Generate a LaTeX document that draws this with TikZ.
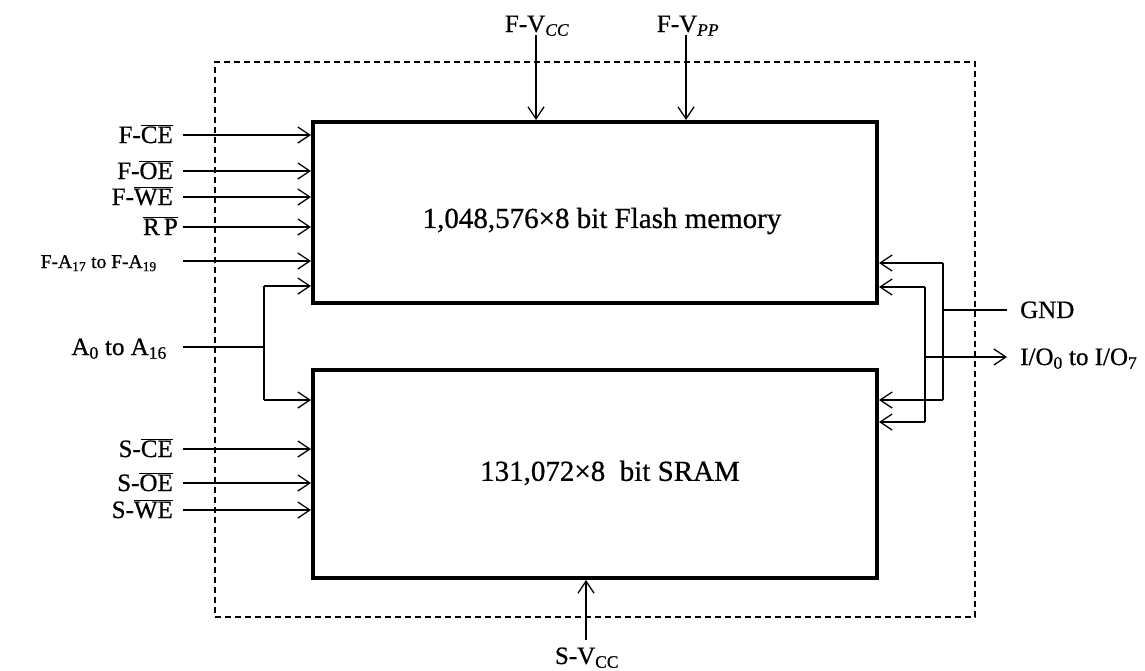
\documentclass[tikz,border=0pt]{standalone}
\usepackage{fontspec}
\setmainfont{Liberation Serif}[FakeBold=0.7]
\usetikzlibrary{arrows.meta}
\newcommand{\ovl}[1]{$\overline{\mbox{#1}}$}
\begin{document}
\begin{tikzpicture}[x=1pt,y=-1pt,
  lab/.style={font=\fontsize{25}{30}\selectfont, inner sep=0pt},
  smalllab/.style={font=\fontsize{19.5}{24}\selectfont, inner sep=0pt},
  boxtxt/.style={font=\fontsize{29}{33}\selectfont, inner sep=0pt},
  block/.style={draw, line width=4pt, minimum width=564pt, inner sep=0pt},
  wire/.style={line width=1.4pt},
  arr/.style={wire, -{Straight Barb[length=12pt,width=16pt,line width=1.3pt]}},
  frame/.style={draw, line width=1.4pt, dash pattern=on 6pt off 4pt}]
\useasboundingbox (0,0) rectangle (1145,670);
% frame and blocks
\node[frame, minimum width=760pt, minimum height=555pt] (outer) at (595,339.5) {};
\node[block, minimum height=181pt] (flash) at (595,212.5) {};
\node[boxtxt] (ftxt) at (602,221) {1,048,576×8 bit Flash memory};
\node[block, minimum height=208pt] (sram) at (595,474) {};
\node[boxtxt] (stxt) at (610,473) {131,072×8\ \ bit SRAM};
% left signals
\coordinate (fce) at (183,135);
\coordinate (foe) at (183,171);
\coordinate (fwe) at (183,197);
\coordinate (rp) at (183,227);
\coordinate (fa) at (183,261);
\coordinate (a0) at (183,347);
\coordinate (sce) at (183,449);
\coordinate (soe) at (183,483);
\coordinate (swe) at (183,510);
\node[lab, anchor=base east] (lfce) at (173,143) {F-\ovl{CE}};
\node[lab, anchor=base east] (lfoe) at (173,179) {F-\ovl{OE}};
\node[lab, anchor=base east] (lfwe) at (173,205) {F-\ovl{WE}};
\node[lab, anchor=base east] (lrp) at (178,235) {\ovl{R\,P}};
\node[smalllab, anchor=base east] (lfa) at (157,268) {F-A\textsubscript{17} to F-A\textsubscript{19}};
\node[lab, anchor=base east] (la0) at (167,355) {A\textsubscript{0} to A\textsubscript{16}};
\node[lab, anchor=base east] (lsce) at (173,457) {S-\ovl{CE}};
\node[lab, anchor=base east] (lsoe) at (173,491) {S-\ovl{OE}};
\node[lab, anchor=base east] (lswe) at (173,518) {S-\ovl{WE}};
\foreach \c in {fce,foe,fwe,rp,fa}{\draw[arr] (\c) -- (\c -| flash.west);}
\foreach \c in {sce,soe,swe}{\draw[arr] (\c) -- (\c -| sram.west);}
% address bus
\coordinate (ab1) at (264,286);
\coordinate (ab2) at (264,400);
\draw[wire] (a0) -- (a0 -| ab1);
\draw[wire] (ab1) -- (ab2);
\draw[arr] (ab1) -- (ab1 -| flash.west);
\draw[arr] (ab2) -- (ab2 -| sram.west);
% top supplies
\coordinate (fvcc) at (536,35);
\coordinate (fvpp) at (686,35);
\node[lab, anchor=base] (lfvcc) at (537,32) {F-V\textsubscript{\itshape CC}};
\node[lab, anchor=base] (lfvpp) at (688,32) {F-V\textsubscript{\itshape PP}};
\draw[arr] (fvcc) -- (fvcc |- flash.north);
\draw[arr] (fvpp) -- (fvpp |- flash.north);
% bottom supply
\coordinate (svcc) at (586,640);
\node[lab, anchor=base] (lsvcc) at (587,664) {S-V\textsubscript{CC}};
\draw[arr] (svcc) -- (svcc |- sram.south);
% right side
\coordinate (b1) at (943,263);
\coordinate (b3) at (943,400);
\coordinate (b2) at (925,287);
\coordinate (b4) at (925,422);
\coordinate (gnd) at (1007,310);
\coordinate (io) at (1007,357);
\node[lab, anchor=base west] (lgnd) at (1020,318) {GND};
\node[lab, anchor=base west] (lio) at (1020,365) {I/O\textsubscript{0} to I/O\textsubscript{7}};
\draw[wire] (b1) -- (b3);
\draw[wire] (b2) -- (b4);
\draw[arr] (b1) -- (b1 -| flash.east);
\draw[arr] (b2) -- (b2 -| flash.east);
\draw[arr] (b3) -- (b3 -| sram.east);
\draw[arr] (b4) -- (b4 -| sram.east);
\draw[wire] (gnd) -- (gnd -| b1);
\draw[arr] (io -| b2) -- (io);
\end{tikzpicture}
\end{document}
